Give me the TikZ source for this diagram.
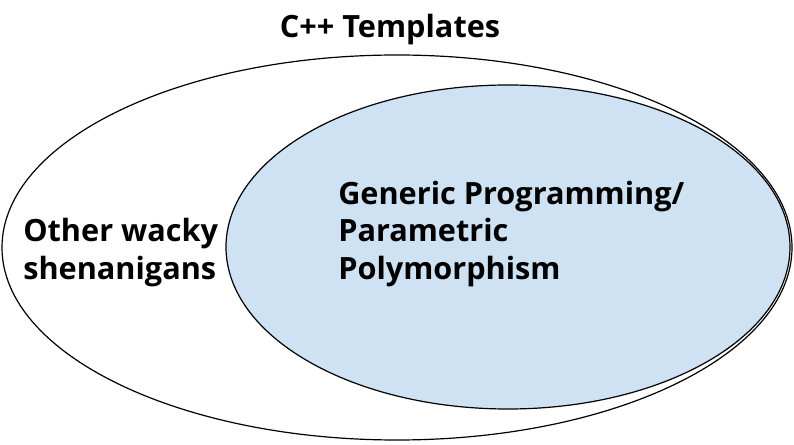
\documentclass[tikz,border=0pt]{standalone}
\usepackage{fontspec}
\setmainfont{Open Sans}
\definecolor{setblue}{HTML}{CFE2F3}
\tikzset{
  setlabel/.style={font=\bfseries\fontsize{23}{28.2}\selectfont, inner sep=0pt, align=left},
}
\begin{document}
\begin{tikzpicture}[x=0.75pt, y=-0.75pt]
    \useasboundingbox (0,0) rectangle (794,445);

    % Outer set
    \draw[black, line width=0.9pt] (397,247.5) ellipse [x radius=395, y radius=192.5];
    \node[setlabel, anchor=base] (templates) at (390,38) {C++ Templates};

    % Inner set
    \draw[black, line width=0.9pt, fill=setblue] (508,247) ellipse [x radius=282, y radius=162];
    \node[setlabel, anchor=base west] (wacky) at (23,279.3) {Other wacky\\shenanigans};
    \node[setlabel, anchor=base west] (generic) at (338,279.3)
        {Generic Programming/\\Parametric\\Polymorphism};
\end{tikzpicture}
\end{document}
